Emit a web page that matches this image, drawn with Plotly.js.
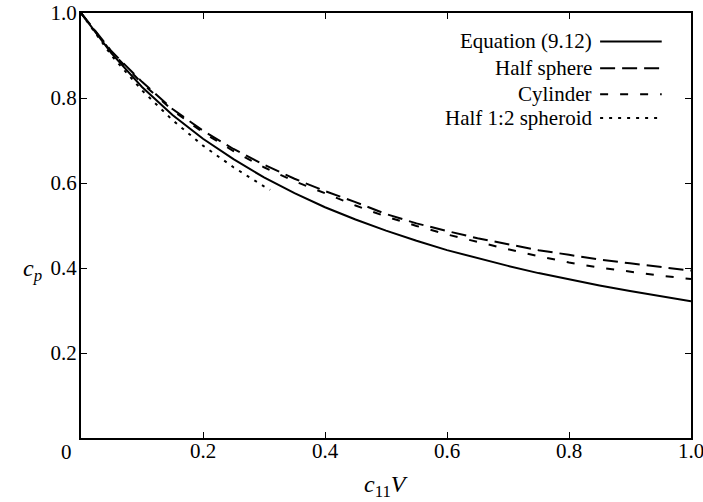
<!DOCTYPE html>
<html>
<head>
<meta charset="utf-8">
<script src="https://cdn.plot.ly/plotly-3.0.1.min.js"></script>
<style>html,body{margin:0;padding:0;background:#fff;}#chart{width:703px;height:502px;}</style>
</head>
<body>
<div id="chart"></div>
<script>
// x values (c11 V)
const xGrid = [0, 0.05, 0.1, 0.15, 0.2, 0.25, 0.3, 0.35, 0.4, 0.45, 0.5, 0.55, 0.6, 0.65, 0.7, 0.75, 0.8, 0.85, 0.9, 0.95, 1.0];
// Equation (9.12)
const eqVals = [1.0, 0.905, 0.826, 0.760, 0.704, 0.656, 0.613, 0.576, 0.543, 0.514, 0.488, 0.464, 0.442, 0.423, 0.405, 0.388, 0.373, 0.359, 0.346, 0.334, 0.322];
// Half sphere
const halfSphereVals = [1.0, 0.910, 0.838, 0.774, 0.723, 0.680, 0.643, 0.610, 0.581, 0.555, 0.527, 0.505, 0.487, 0.470, 0.456, 0.442, 0.431, 0.420, 0.411, 0.402, 0.394];
// Cylinder
const cylinderVals = [1.0, 0.908, 0.835, 0.771, 0.719, 0.675, 0.637, 0.604, 0.576, 0.547, 0.521, 0.499, 0.479, 0.461, 0.444, 0.428, 0.413, 0.401, 0.391, 0.382, 0.374];
// Half 1:2 spheroid
const spheroidX = [0, 0.05, 0.1, 0.15, 0.2, 0.25, 0.3, 0.31];
const spheroidVals = [1.0, 0.900, 0.818, 0.748, 0.688, 0.637, 0.592, 0.584];

const seriesNames = ['Equation (9.12)', 'Half sphere', 'Cylinder', 'Half 1:2 spheroid'];
const tickVals = [0.2, 0.4, 0.6, 0.8, 1.0];
const tickText = ['0.2', '0.4', '0.6', '0.8', '1.0'];

const dashes = ['solid', '15px,7px', '8px,12px', '3px,6px'];
const FONT = 'Liberation Serif';

const traces = [
  {x: xGrid, y: eqVals, name: seriesNames[0], mode: 'lines', line: {color: '#000', width: 2, dash: dashes[0]}},
  {x: xGrid, y: halfSphereVals, name: seriesNames[1], mode: 'lines', line: {color: '#000', width: 2, dash: dashes[1]}},
  {x: xGrid, y: cylinderVals, name: seriesNames[2], mode: 'lines', line: {color: '#000', width: 2, dash: dashes[2]}},
  {x: spheroidX, y: spheroidVals, name: seriesNames[3], mode: 'lines', line: {color: '#000', width: 2, dash: dashes[3]}}
];

// Manual legend (text right-aligned, sample on the right)
const legY = [0.933, 0.870, 0.809, 0.753];
const shapes = [];
const annotations = [];
for (let i = 0; i < seriesNames.length; i++) {
  annotations.push({xref: 'paper', yref: 'paper', x: 0.841, y: legY[i], xanchor: 'right', yanchor: 'middle',
    text: seriesNames[i], showarrow: false, font: {family: FONT, size: 21, color: '#000'}});
  shapes.push({type: 'line', xref: 'paper', yref: 'paper', x0: 0.851, x1: 0.952, y0: legY[i], y1: legY[i],
    line: {color: '#000', width: 2, dash: dashes[i]}});
}
annotations.push({xref: 'paper', yref: 'paper', x: -0.023, y: -0.033, xanchor: 'center', yanchor: 'middle',
  text: '0', showarrow: false, font: {family: FONT, size: 21, color: '#000'}});
annotations.push({xref: 'paper', yref: 'paper', x: -0.080, y: 0.395, xanchor: 'center', yanchor: 'middle',
  text: '<i>c</i><sub><i>p</i></sub>', showarrow: false, font: {family: FONT, size: 24, color: '#000'}});
annotations.push({xref: 'paper', yref: 'paper', x: 0.5, y: -0.112, xanchor: 'center', yanchor: 'middle',
  text: '<i>c</i><sub>11</sub><i>V</i>', showarrow: false, font: {family: FONT, size: 24, color: '#000'}});

function axisOpts(standoff) {
  return {
    range: [0, 1], showgrid: false, zeroline: false, showline: true, linecolor: '#000', linewidth: 2,
    mirror: 'ticks', ticks: 'inside', ticklen: 6, tickwidth: 1, tickcolor: '#000',
    tickvals: tickVals.slice(), ticktext: tickText.slice(),
    tickfont: {family: FONT, size: 21, color: '#000'},
    ticklabelstandoff: standoff, ticklabeloverflow: 'allow'
  };
}

const layout = {
  width: 703, height: 502,
  margin: {l: 81, r: 12, t: 13, b: 64},
  paper_bgcolor: '#fff', plot_bgcolor: '#fff',
  showlegend: false,
  xaxis: axisOpts(-7),
  yaxis: axisOpts(-2),
  shapes: shapes,
  annotations: annotations
};

Plotly.newPlot('chart', traces, layout, {displayModeBar: false, staticPlot: true});
</script>
</body>
</html>
